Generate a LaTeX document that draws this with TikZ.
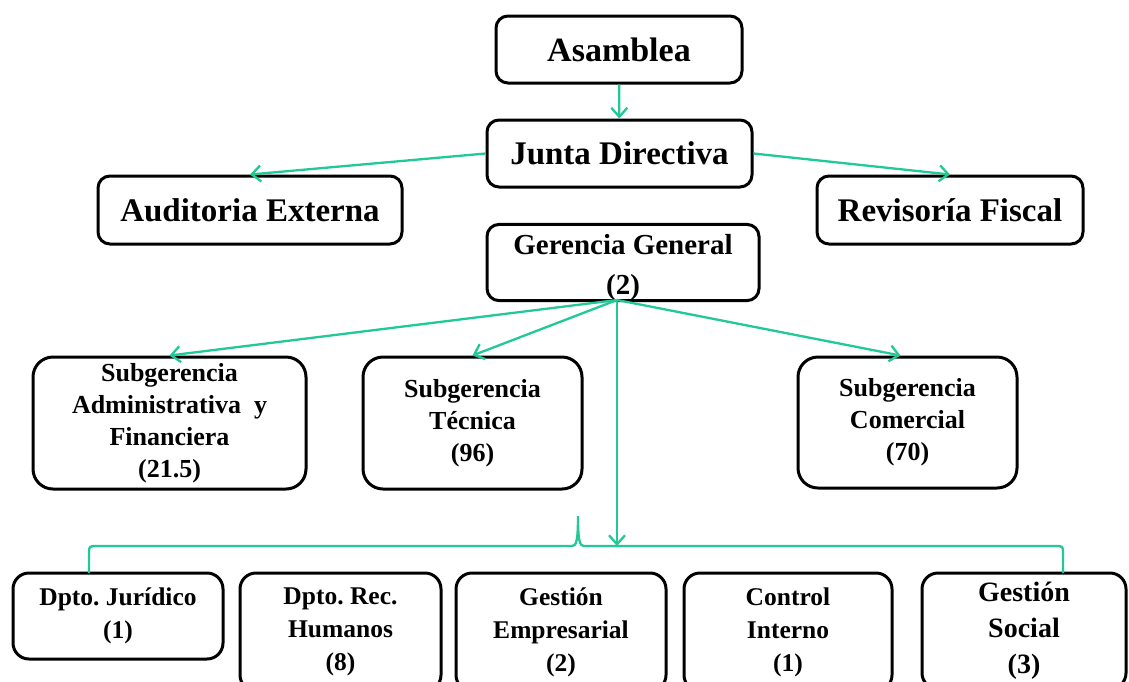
\documentclass[tikz,border=0pt]{standalone}
\usepackage{fontspec}
\setmainfont{Liberation Serif}
\frenchspacing
\usetikzlibrary{arrows.meta}
\definecolor{verde}{RGB}{33,201,151}

\begin{document}
\begin{tikzpicture}[x=1pt,y=-1pt,
   caja/.style={draw,line width=3pt,rounded corners=12pt,align=center,inner sep=0pt,font=\bfseries},
   flecha/.style={draw=verde,line width=2.3pt,-{Straight Barb[length=9pt,width=16pt,line width=2.3pt]}},
   sub/.style={caja,rounded corners=20pt,font=\bfseries\fontsize{26}{32}\selectfont},
   dep/.style={caja,rounded corners=16pt,font=\bfseries\fontsize{25.5}{33}\selectfont}]
   \clip (0,0) rectangle (1129,681);
   \node[caja,minimum width=246pt,minimum height=67pt,font=\bfseries\fontsize{34}{36}\selectfont] (asam) at (619,49.5) {Asamblea};
   \node[caja,minimum width=265pt,minimum height=67pt,font=\bfseries\fontsize{33}{36}\selectfont] (junta) at (619.5,153.5) {Junta Directiva};
   \node[caja,minimum width=304pt,minimum height=68pt,font=\bfseries\fontsize{33}{36}\selectfont] (audit) at (250,210) {Auditoria Externa};
   \node[caja,minimum width=266pt,minimum height=68pt,font=\bfseries\fontsize{33}{36}\selectfont] (revis) at (950,210) {Revisoría Fiscal};
   \node[caja,minimum width=272pt,minimum height=75pt,font=\bfseries\fontsize{29}{40}\selectfont] (geren) at (623,262.5) {\rule{0pt}{30pt}Gerencia General\\(2)};
   \node[sub,minimum width=273pt,minimum height=132pt] (admin) at (169.5,423) {Subgerencia\\Administrativa \ y\\Financiera\\(21.5)};
   \node[sub,minimum width=219pt,minimum height=132pt] (tecni) at (472.5,423) {Subgerencia\\Técnica\\(96)};
   \node[sub,minimum width=219pt,minimum height=131pt] (comer) at (907.5,422.5) {Subgerencia\\Comercial\\(70)};
   \node[dep,minimum width=210pt,minimum height=86pt] (jurid) at (118,616) {Dpto. Jurídico\\(1)};
   \node[dep,minimum width=201pt,minimum height=118pt] (human) at (340.5,632) {Dpto. Rec.\\Humanos\\(8)};
   \node[dep,minimum width=210pt,minimum height=118pt] (empre) at (561,632) {Gestión\\Empresarial\\(2)};
   \node[dep,minimum width=208pt,minimum height=118pt] (contr) at (788,632) {Control\\Interno\\(1)};
   \node[dep,minimum width=204pt,minimum height=116pt,font=\bfseries\fontsize{28}{36}\selectfont] (socia) at (1024,631) {Gestión\\Social\\(3)};

   \coordinate (gsal) at (617,300);
   \coordinate (llave) at (617,546);
   \coordinate (izq) at (89,573);
   \coordinate (der) at (1063,573);
   \coordinate (punta) at (578,516);

   \draw[flecha] (asam) -- (junta);
   \draw[flecha] (junta.west) -- (audit.north);
   \draw[flecha] (junta.east) -- (revis.north);
   \draw[flecha] (gsal) -- (admin.north);
   \draw[flecha] (gsal) -- (tecni.north);
   \draw[flecha] (gsal) -- ([xshift=-7pt]comer.north);
   \draw[flecha] (gsal) -- (llave);
   \draw[verde,line width=2.3pt] (izq) -- (89,554) .. controls (89,546) .. (97,546) -- (572,546)
      .. controls (576,546) and (578,542) .. (punta) .. controls (578,542) and (580,546) .. (584,546)
      -- (1055,546) .. controls (1063,546) .. (1063,554) -- (der);
\end{tikzpicture}
\end{document}
